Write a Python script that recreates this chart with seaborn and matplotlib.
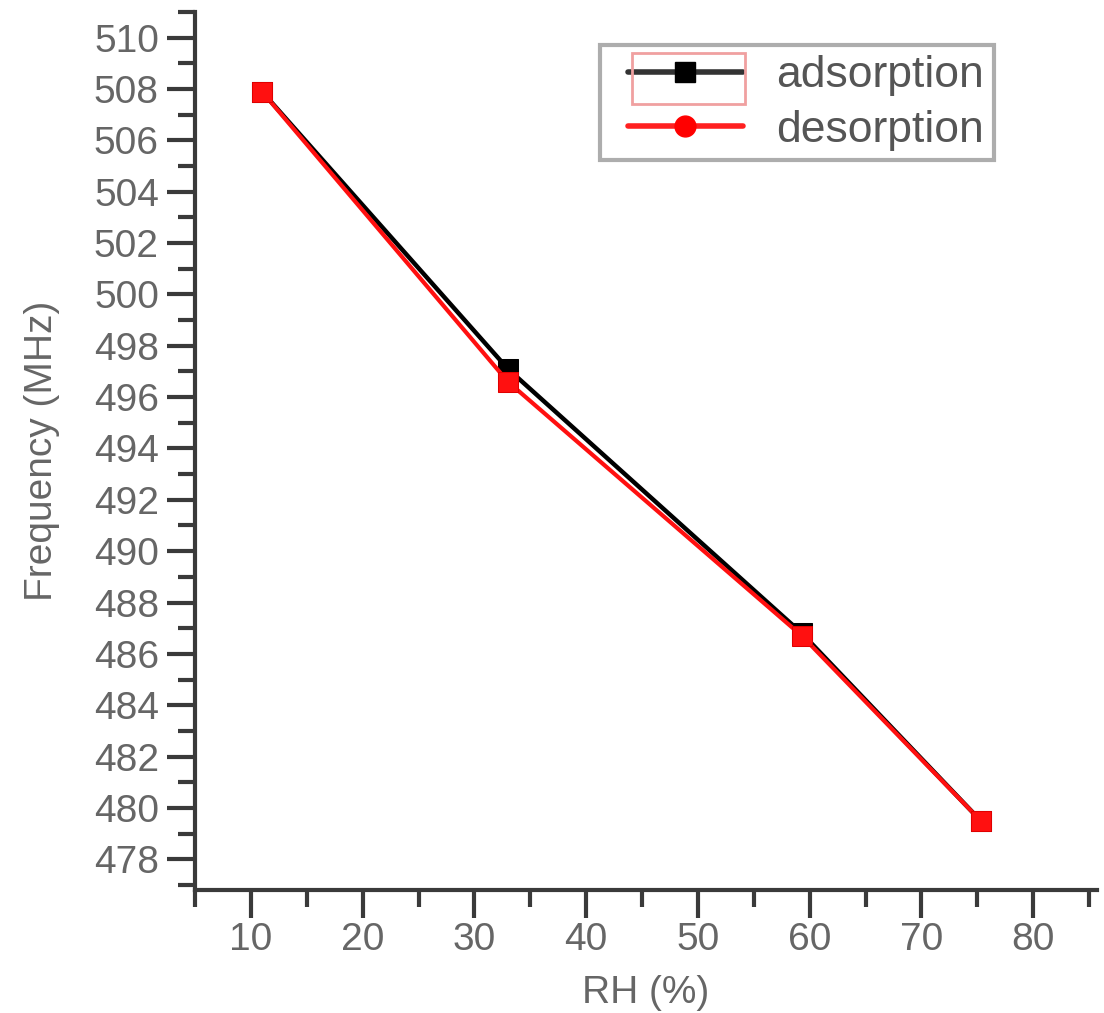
import matplotlib
matplotlib.use("Agg")
import matplotlib.pyplot as plt
import pandas as pd
import seaborn as sns
from matplotlib.legend_handler import HandlerLine2D
from matplotlib.lines import Line2D
from matplotlib.patches import Rectangle
from matplotlib.ticker import MultipleLocator

# Datos
rh = [11.0, 33.0, 59.3, 75.3]
adsorcion = [507.9, 497.1, 486.8, 479.5]
desorcion = [507.9, 496.6, 486.7, 479.5]
etiquetas = ["adsorption", "desorption"]

sns.set_style("ticks")
plt.rcParams["font.family"] = ["Liberation Sans", "DejaVu Sans"]

GRIS = "#666666"
EJE = "#3a3a3a"

df = pd.DataFrame({"RH": rh * 2,
                   "freq": adsorcion + desorcion,
                   "serie": [etiquetas[0]] * len(rh) + [etiquetas[1]] * len(rh)})

fig = plt.figure(figsize=(11.04, 10.13), dpi=100)
ax = fig.add_axes([0.1766, 0.1214, 0.817, 0.8667])

sns.lineplot(data=df[df.serie == etiquetas[0]], x="RH", y="freq", ax=ax,
             color="black", marker="s", markersize=15, markeredgecolor="black",
             linewidth=3.2, legend=False)
sns.lineplot(data=df[df.serie == etiquetas[1]], x="RH", y="freq", ax=ax,
             color="#ff1010", marker="s", markersize=15, markeredgecolor="#e00000",
             linewidth=3, legend=False)

ax.set_xlim(5.0, 85.7)
ax.set_ylim(476.8, 511.0)
ax.xaxis.set_major_locator(MultipleLocator(10))
ax.xaxis.set_minor_locator(MultipleLocator(5))
ax.yaxis.set_major_locator(MultipleLocator(2))
ax.yaxis.set_minor_locator(MultipleLocator(1))

sns.despine(ax=ax)
for s in ["left", "bottom"]:
    ax.spines[s].set_linewidth(3)
    ax.spines[s].set_color(EJE)

ax.tick_params(which="major", length=20, width=3, color=EJE, labelsize=28,
               labelcolor=GRIS, direction="out")
ax.tick_params(which="minor", length=12, width=3, color=EJE, direction="out")
ax.tick_params(axis="x", pad=3)
ax.tick_params(axis="y", pad=6)

ax.set_xlabel("RH (%)", fontsize=28, color=GRIS, labelpad=12)
ax.set_ylabel("Frequency (MHz)", fontsize=28, color=GRIS, labelpad=24)

# Leyenda: el original muestra un círculo para desorción
manejadores = [
    Line2D([], [], color="#333333", linewidth=4, marker="s", markersize=15,
           markerfacecolor="black", markeredgecolor="black"),
    Line2D([], [], color="#ff2020", linewidth=4, marker="o", markersize=15,
           markerfacecolor="#ff0000", markeredgecolor="#ff0000"),
]
leg = ax.legend(manejadores, etiquetas, loc="upper left",
                bbox_to_anchor=(0.449, 0.962), fontsize=32, frameon=True,
                fancybox=False, handlelength=3.0, handletextpad=0.75,
                labelspacing=0.3, borderpad=0.22, borderaxespad=0,
                handler_map={Line2D: HandlerLine2D(xpad=0.4)})
for t in leg.get_texts():
    t.set_color("#555555")
marco = leg.get_frame()
marco.set_edgecolor("#999999")
marco.set_linewidth(3)

# recuadro rosado alrededor del símbolo de adsorción (como en el original)
fig.add_artist(Rectangle((632 / 1104, 1 - 104 / 1013), 113 / 1104, 51 / 1013,
                         transform=fig.transFigure, fill=False,
                         edgecolor="#f0a0a0", linewidth=2))

fig.savefig("out.png", dpi=100)
